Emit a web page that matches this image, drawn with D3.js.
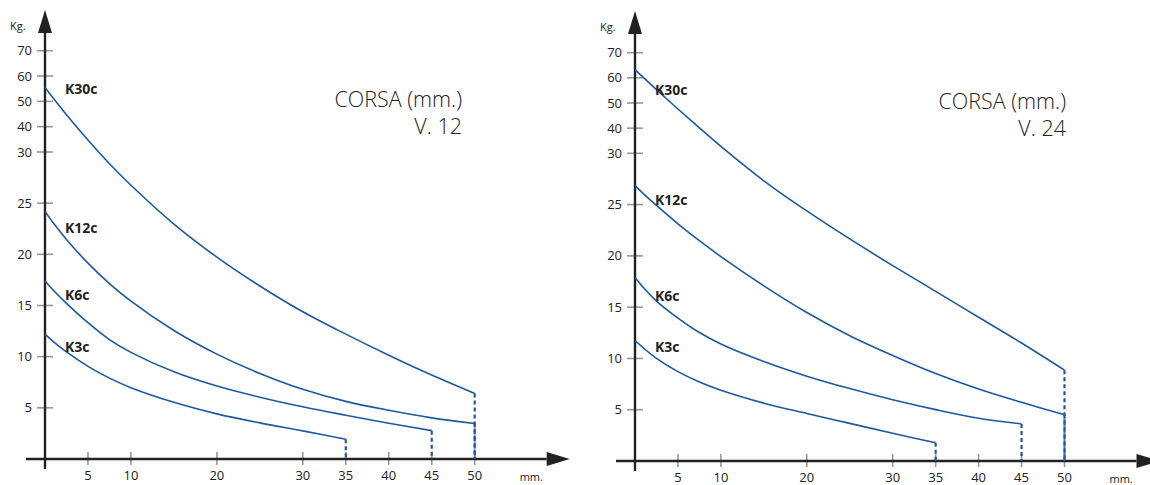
<!DOCTYPE html>
<html>
<head>
<meta charset="utf-8">
<script src="https://cdn.jsdelivr.net/npm/d3@7"></script>
<style>
  body { margin: 0; background: #fff; }
  svg { display: block; }
  text { font-family: "Open Sans", "DejaVu Sans", sans-serif; fill: #222; }
</style>
</head>
<body>
<svg id="chart" width="1150" height="485"></svg>
<script>
// stroke (mm.) sample points shared by all curves
const corsa = [0, 1, 2.5, 5, 7.5, 10, 15, 20, 25, 30, 35, 40, 45, 50];
const xTicks = [5, 10, 20, 30, 35, 40, 45, 50];
const yTicks = [5, 10, 15, 20, 25, 30, 40, 50, 60, 70];
const springs = ['K30c', 'K12c', 'K6c', 'K3c'];

// force (Kg.) at V. 12
const v12K30c = [55.5, 51.1, 44.7, 34.7, 28.85, 26.75, 22.96, 19.73, 16.91, 14.39, 12.2, 10.14, 8.2, 6.4];
const v12K12c = [24.2, 23.03, 21.45, 19.14, 17.14, 15.42, 12.56, 10.25, 8.36, 6.81, 5.63, 4.76, 4.02, 3.47];
const v12K6c  = [17.4, 16.47, 15.21, 13.32, 11.67, 10.42, 8.52, 7.13, 6.04, 5.1, 4.28, 3.5, 2.77];
const v12K3c  = [12.2, 11.45, 10.46, 9.05, 7.9, 6.97, 5.54, 4.41, 3.53, 2.75, 1.93];

// force (Kg.) at V. 24
const v24K30c = [63.3, 60.06, 55.33, 47.61, 40.1, 32.74, 27.32, 24.38, 21.65, 19.05, 16.54, 14.02, 11.5, 8.86];
const v24K12c = [26.85, 26.05, 24.92, 23.13, 21.48, 19.93, 17.08, 14.48, 12.22, 10.29, 8.53, 7.02, 5.72, 4.5];
const v24K6c  = [17.9, 16.9, 15.59, 13.94, 12.53, 11.41, 9.7, 8.27, 7.06, 5.97, 5.01, 4.17, 3.61];
const v24K3c  = [11.75, 11.01, 10.0, 8.71, 7.7, 6.9, 5.64, 4.64, 3.67, 2.7, 1.78];

// label heights (Kg.) for the spring names
const v12Labels = [52.8, 22.1, 15.5, 10.5];
const v24Labels = [53.3, 25.0, 15.6, 10.6];

const panels = [
  { title: 'V. 12', data: [v12K30c, v12K12c, v12K6c, v12K3c], labels: v12Labels,
    x0: 45, x50: 474.7, yBase: 459, y30: 152, y70: 50.7, arrowTop: 10, titleX: 462 },
  { title: 'V. 24', data: [v24K30c, v24K12c, v24K6c, v24K3c], labels: v24Labels,
    x0: 635, x50: 1064.5, yBase: 461, y30: 153.3, y70: 52.7, arrowTop: 11, titleX: 1066 }
];

const svg = d3.select('#chart');
const blue = '#1d58a0';

panels.forEach(p => {
  const g = svg.append('g');
  const x = d3.scaleLinear().domain([0, 50]).range([p.x0, p.x50]);
  // broken scale: 0-30 stretched, 30-70 compressed
  const y = d3.scaleLinear().domain([0, 30, 70]).range([p.yBase, p.y30, p.y70]);

  // ticks
  g.selectAll('.ytick').data(yTicks).enter().append('line')
    .attr('x1', p.x0 - 8).attr('x2', p.x0 + 8)
    .attr('y1', d => y(d)).attr('y2', d => y(d))
    .attr('stroke', '#999').attr('stroke-width', 1.6);
  g.selectAll('.ylab').data(yTicks).enter().append('text')
    .attr('x', p.x0 - 13).attr('y', d => y(d) + 4.5)
    .attr('text-anchor', 'end').attr('font-size', 13)
    .text(d => d);

  g.selectAll('.xtick').data(xTicks).enter().append('line')
    .attr('x1', d => x(d)).attr('x2', d => x(d))
    .attr('y1', p.yBase - 7).attr('y2', p.yBase + 6)
    .attr('stroke', '#999').attr('stroke-width', 1.6);
  g.selectAll('.xlab').data(xTicks).enter().append('text')
    .attr('x', d => x(d)).attr('y', p.yBase + 21)
    .attr('text-anchor', 'middle').attr('font-size', 13)
    .text(d => d);

  // axes with arrows
  g.append('line')
    .attr('x1', p.x0).attr('x2', p.x0)
    .attr('y1', p.yBase + 10).attr('y2', p.arrowTop + 20)
    .attr('stroke', '#222').attr('stroke-width', 2.4);
  g.append('path')
    .attr('d', `M${p.x0},${p.arrowTop} L${p.x0 + 7},${p.arrowTop + 23} L${p.x0 - 7},${p.arrowTop + 23}Z`)
    .attr('fill', '#222');
  const xEnd = x(50) + 72;
  g.append('line')
    .attr('x1', p.x0 - 19).attr('x2', xEnd)
    .attr('y1', p.yBase).attr('y2', p.yBase)
    .attr('stroke', '#222').attr('stroke-width', 2.4);
  g.append('path')
    .attr('d', `M${xEnd + 23},${p.yBase} L${xEnd},${p.yBase - 7} L${xEnd},${p.yBase + 7}Z`)
    .attr('fill', '#222');

  g.append('text').attr('x', p.x0 - 35).attr('y', p.arrowTop + 20)
    .attr('font-size', 11).text('Kg.');
  g.append('text').attr('x', x(50) + 45).attr('y', p.yBase + 22)
    .attr('font-size', 11).text('mm.');

  // curves
  const line = d3.line().x(d => x(d[0])).y(d => y(d[1])).curve(d3.curveCatmullRom.alpha(0.5));
  p.data.forEach((vals, i) => {
    const pts = vals.map((v, j) => [corsa[j], v]);
    const last = pts[pts.length - 1];
    g.append('path').datum(pts)
      .attr('d', line)
      .attr('fill', 'none').attr('stroke', blue).attr('stroke-width', 1.6);
    g.append('line')
      .attr('x1', x(last[0])).attr('x2', x(last[0]))
      .attr('y1', y(last[1])).attr('y2', y(0))
      .attr('stroke', blue).attr('stroke-width', 2.2)
      .attr('stroke-dasharray', '4,3');
    g.append('text')
      .attr('x', p.x0 + 20).attr('y', y(p.labels[i]))
      .attr('font-size', 14).attr('font-weight', 'bold')
      .text(springs[i]);
  });

  g.append('text').attr('x', p.titleX).attr('y', p.yBase - 352)
    .attr('text-anchor', 'end').attr('font-size', 21.5).attr('font-weight', 300)
    .text('CORSA (mm.)');
  g.append('text').attr('x', p.titleX).attr('y', p.yBase - 325)
    .attr('text-anchor', 'end').attr('font-size', 21.5).attr('font-weight', 300)
    .text(p.title);
});
</script>
</body>
</html>
